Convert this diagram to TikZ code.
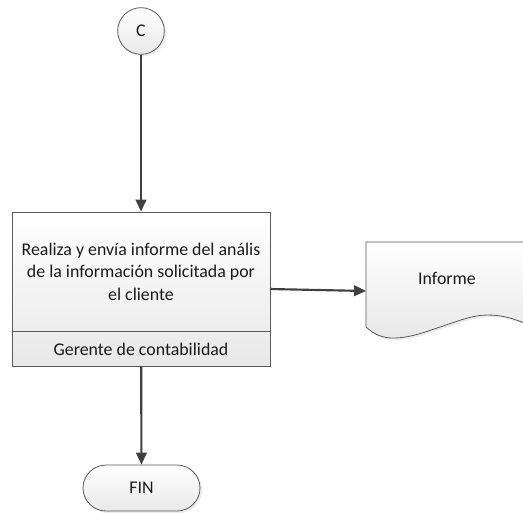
\documentclass[tikz,border=0pt]{standalone}
\usepackage{fontspec}
\setmainfont{Carlito}
\usetikzlibrary{arrows.meta,shadows}
\definecolor{edge}{HTML}{5A5A5A}
\definecolor{flow}{HTML}{404040}
\definecolor{ink}{HTML}{1A1A1A}
\tikzset{
  shapefill/.style={top color=white, bottom color=black!9, draw=edge, line width=0.6pt},
  softshadow/.style={drop shadow={opacity=0.15, shadow xshift=1.6pt, shadow yshift=-1.6pt}},
  flowline/.style={draw=flow, line width=1.6pt, -{Triangle[length=9pt,width=8pt]}},
  lbl/.style={text=ink, font=\fontsize{13.4}{16.9}\selectfont, align=center},
}
\begin{document}
\begin{tikzpicture}[x=0.75pt,y=-0.75pt]
\clip (0,0) rectangle (523,512);

% connector C
\node[circle, shapefill, softshadow, minimum size=35pt, inner sep=0pt, lbl] (c) at (141,31) {C};

% process with role band
\node[rectangle, shapefill, minimum width=193.5pt, minimum height=115.5pt, inner sep=0pt] (proc) at (141,289) {};
\draw[edge, line width=0.6pt] (12,331) -- (270,331);
\node[lbl] (task) at (141,271.5) {Realiza y envía informe del anális\\de la información solicitada por\\el cliente};
\node[lbl] (role) at (141,349) {Gerente de contabilidad};

% document
\path[shapefill, softshadow]
  (366,242) -- (540,242) -- (540,330)
  .. controls (515,318) and (502,315) .. (487,315)
  .. controls (473,315) and (458,321) .. (440,327)
  .. controls (425,332) and (410,338) .. (393,338)
  .. controls (383,338) and (375,335) .. (366,327) -- cycle;
\node[lbl] (doc) at (447,278) {Informe};
\coordinate (docin) at (366,291);

% terminator
\node[rectangle, rounded corners=17.25pt, shapefill, softshadow, minimum width=87.75pt, minimum height=34.5pt, inner sep=0pt, lbl] (fin) at (141.5,488) {FIN};

% flow
\draw[flowline] (c) -- (proc);
\draw[flowline] (proc.east) -- (docin);
\draw[flowline] (proc) -- (fin);
\end{tikzpicture}
\end{document}
